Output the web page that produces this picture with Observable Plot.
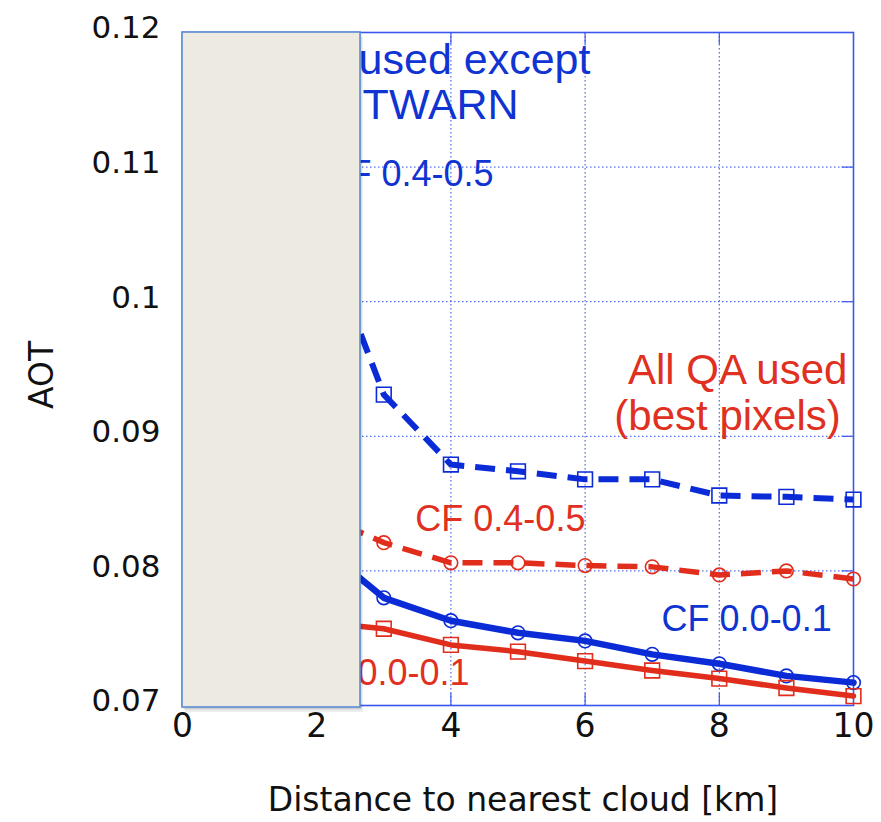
<!DOCTYPE html>
<html>
<head>
<meta charset="utf-8">
<script src="https://cdn.jsdelivr.net/npm/d3@7"></script>
<script src="https://cdn.jsdelivr.net/npm/@observablehq/plot@0.6"></script>
<style>
  html, body { margin: 0; padding: 0; background: #ffffff; }
  #chart { width: 881px; height: 822px; }
</style>
</head>
<body>
<div id="chart"></div>
<script>
// ---- data ----
const distanceKm = [2, 3, 4, 5, 6, 7, 8, 9, 10];
// All QA used except ...TWARN, cloud fraction 0.4-0.5 (blue dashed, squares)
const aotExceptCF45 = [0.1062, 0.0931, 0.0879, 0.0874, 0.0868, 0.0868, 0.0856, 0.0855, 0.0853];
// All QA used (best pixels), cloud fraction 0.4-0.5 (red dashed, circles)
const aotBestCF45 = [0.0843, 0.0821, 0.0806, 0.0806, 0.0804, 0.0803, 0.0797, 0.0800, 0.0794];
// All QA used except ...TWARN, cloud fraction 0.0-0.1 (blue solid, circles)
const aotExceptCF01 = [0.0821, 0.0780, 0.0763, 0.0754, 0.0748, 0.0738, 0.0731, 0.0722, 0.0717];
// All QA used (best pixels), cloud fraction 0.0-0.1 (red solid, squares)
const aotBestCF01 = [0.0762, 0.0757, 0.0745, 0.0740, 0.0733, 0.0726, 0.0720, 0.0713, 0.0707];

const xTicks = [0, 2, 4, 6, 8, 10];
const xTickLabels = ["0", "2", "4", "6", "8", "10"];
const yTicks = [0.07, 0.08, 0.09, 0.10, 0.11, 0.12];
const yTickLabels = ["0.07", "0.08", "0.09", "0.1", "0.11", "0.12"];
const xDomain = [0, 10];
const yDomain = [0.07, 0.12];

const xTitle = "Distance to nearest cloud [km]";
const yTitle = "AOT";
const labelTexts = ["All QA used except", "TWARN", "CF 0.4-0.5", "All QA used", "(best pixels)", "CF 0.4-0.5", "CF 0.0-0.1", "CF 0.0-0.1"];

// grey sheet that covers the left part of the chart in the reference
const coverSheet = [{x1: 0, x2: 2.653, y1: 0.06985, y2: 0.12}];

// ---- styles ----
const BLUE = "#0a2bd6";
const RED = "#e12d1c";
const BLUE_TXT = "#1034d2";
const RED_TXT = "#e0301f";
const GRID = "#2c4be6";
const FRAME = "#3a58ee";
const AXIS_FONT = "DejaVu Sans, sans-serif";
const LABEL_FONT = "Liberation Sans, Arial, sans-serif";

const rows = (vals) => distanceKm.map((d, i) => ({x: d, y: vals[i]}));

const series = [
  {data: rows(aotExceptCF45), stroke: BLUE, dash: "20,11", symbol: "square", width: 6},
  {data: rows(aotBestCF45), stroke: RED, dash: "20,11", symbol: "circle", width: 5.5},
  {data: rows(aotExceptCF01), stroke: BLUE, dash: null, symbol: "circle", width: 6.5},
  {data: rows(aotBestCF01), stroke: RED, dash: null, symbol: "square", width: 5.5}
];

const marks = [
  Plot.gridX(xTicks.slice(1, -1), {stroke: GRID, strokeOpacity: 1, strokeWidth: 1, strokeDasharray: "1.5,2.5"}),
  Plot.gridY(yTicks.slice(1, -1), {stroke: GRID, strokeOpacity: 1, strokeWidth: 1, strokeDasharray: "1.5,2.5"}),
  // inward ticks on the frame
  Plot.ruleX(xTicks.slice(1, -1), {y1: yDomain[0], y2: yDomain[0] + 0.0009, stroke: FRAME, strokeWidth: 1.2}),
  Plot.ruleX(xTicks.slice(1, -1), {y1: yDomain[1] - 0.0009, y2: yDomain[1], stroke: FRAME, strokeWidth: 1.2}),
  Plot.ruleY(yTicks.slice(1, -1), {x1: xDomain[1] - 0.17, x2: xDomain[1], stroke: FRAME, strokeWidth: 1.2}),
  Plot.frame({stroke: FRAME, strokeWidth: 1.6})
];

for (const s of series) {
  marks.push(Plot.line(s.data, {
    x: "x", y: "y", stroke: s.stroke, strokeWidth: s.width,
    strokeDasharray: s.dash ?? undefined,
    strokeLinecap: s.dash ? "butt" : "round", strokeLinejoin: "round"
  }));
}
for (const s of series) {
  marks.push(Plot.dot(s.data, {
    x: "x", y: "y", symbol: s.symbol, r: s.symbol === "square" ? 8.3 : 6.8,
    stroke: s.stroke, fill: "none", strokeWidth: 1.6
  }));
}

// annotations
const ann = (text, x, y, anchor, color, size) =>
  Plot.text([text], {x: () => x, y: () => y, text: d => d, textAnchor: anchor, lineAnchor: "bottom",
    fill: color, fontSize: size, fontFamily: LABEL_FONT});
marks.push(
  ann(labelTexts[0], 6.08, 0.11695, "end", BLUE_TXT, 43),
  ann(labelTexts[1], 5.01, 0.11361, "end", BLUE_TXT, 43),
  ann(labelTexts[2], 4.635, 0.10863, "end", BLUE_TXT, 36),
  ann(labelTexts[3], 9.91, 0.09385, "end", RED_TXT, 42),
  ann(labelTexts[4], 9.81, 0.09050, "end", RED_TXT, 42),
  ann(labelTexts[5], 3.47, 0.0830, "start", RED_TXT, 36),
  ann(labelTexts[6], 7.14, 0.07557, "start", BLUE_TXT, 36),
  ann(labelTexts[7], 4.277, 0.07149, "end", RED_TXT, 36)
);

// covering sheet with soft shadow
marks.push(
  Plot.rect(coverSheet, {x1: "x1", x2: "x2", y1: "y1", y2: "y2", fill: "#000", fillOpacity: 0.07, dx: 3, dy: 5}),
  Plot.rect(coverSheet, {x1: "x1", x2: "x2", y1: "y1", y2: "y2", fill: "#000", fillOpacity: 0.12, dx: 1.5, dy: 2.5}),
  Plot.rect(coverSheet, {x1: "x1", x2: "x2", y1: "y1", y2: "y2", fill: "#edeae1", stroke: "#5b8bd2", strokeWidth: 1.6})
);

// axes and titles
marks.push(
  Plot.axisX({ticks: xTicks, tickFormat: d => xTickLabels[xTicks.indexOf(d)], tickSize: 0, tickPadding: 8,
    fontSize: 33, fontFamily: AXIS_FONT, fill: "#111", label: null}),
  Plot.axisY({ticks: yTicks, tickFormat: d => yTickLabels[yTicks.indexOf(d)], tickSize: 0, tickPadding: 22,
    fontSize: 31, fontFamily: AXIS_FONT, fill: "#111", dy: -4, label: null}),
  Plot.text([xTitle], {frameAnchor: "bottom", text: d => d, dx: 5, dy: 105, lineAnchor: "bottom",
    fontSize: 33, fontFamily: AXIS_FONT, fill: "#111"}),
  Plot.text([yTitle], {frameAnchor: "left", text: d => d, dx: -140, dy: 40, rotate: -90, lineAnchor: "middle",
    fontSize: 33, fontFamily: AXIS_FONT, fill: "#111"})
);

const chart = Plot.plot({
  width: 881,
  height: 822,
  marginLeft: 182,
  marginRight: 28,
  marginTop: 32,
  marginBottom: 117,
  x: {domain: xDomain, axis: null},
  y: {domain: yDomain, axis: null},
  style: {background: "#ffffff", fontFamily: AXIS_FONT, overflow: "visible"},
  marks
});
document.getElementById("chart").appendChild(chart);
</script>
</body>
</html>
